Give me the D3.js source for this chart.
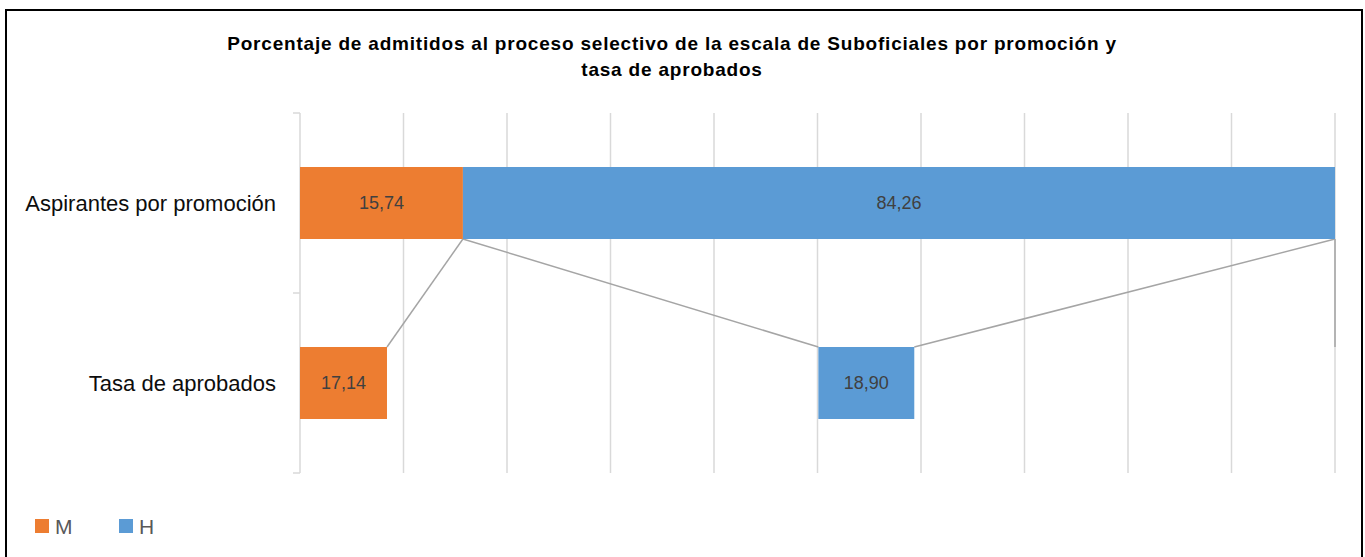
<!DOCTYPE html>
<html><head><meta charset="utf-8">
<script src="https://cdn.jsdelivr.net/npm/d3@7"></script>
<style>body{margin:0;background:#fff;} svg{display:block;}</style>
</head><body>
<script>
const categories = ["Aspirantes por promoción", "Tasa de aprobados"];
const valuesM = [15.74, 17.14];
const spacer1 = [0, 85.0];      // invisible spacer series
const valuesH = [84.26, 18.90];
const spacer2 = [0, 82.9];      // invisible spacer series
const labelsM = ["15,74", "17,14"];
const labelsH = ["84,26", "18,90"];
const xTicks = [0, 10, 20, 30, 40, 50, 60, 70, 80, 90, 100];
const titleLines = ["Porcentaje de admitidos al proceso selectivo de la escala de Suboficiales por promoción y", "tasa de aprobados"];
const legendItems = ["M", "H"];

const W = 1365, H = 557;
const colors = {M: "#ed7d31", S1: "none", H: "#5b9bd5", S2: "none"};
const keys = ["M", "S1", "H", "S2"];
const rows = categories.map((c, i) => ({cat: c, M: valuesM[i], S1: spacer1[i], H: valuesH[i], S2: spacer2[i], lM: labelsM[i], lH: labelsH[i]}));
const FONT = "Liberation Sans, Arial, sans-serif";

const svg = d3.select("body").append("svg").attr("width", W).attr("height", H);
svg.append("rect").attr("x", 0).attr("y", 0).attr("width", W).attr("height", H).attr("fill", "#fff");
// outer frame
svg.append("path").attr("d", `M6,${H+5}V10H1362V${H+5}`).attr("fill", "none").attr("stroke", "#000").attr("stroke-width", 2);

const x = d3.scaleLinear().domain([0, 1]).range([300, 1335]);
const y = d3.scaleBand().domain(categories).range([113, 473]).paddingInner(0).paddingOuter(0);
const barH = 72;

const stack = d3.stack().keys(keys).offset(d3.stackOffsetExpand);
const series = stack(rows);

// gridlines
svg.append("g").selectAll("line").data(xTicks.slice(1)).join("line")
  .attr("x1", d => x(d / 100) ).attr("x2", d => x(d / 100))
  .attr("y1", 113).attr("y2", 473)
  .attr("stroke", "#d9d9d9").attr("stroke-width", 1.5);

// y axis
const yAx = svg.append("g");
yAx.append("line").attr("x1", 300).attr("x2", 300).attr("y1", 113).attr("y2", 473).attr("stroke", "#d9d9d9").attr("stroke-width", 1.5);
const tickYs = [113, ...categories.map(c => y(c) + y.bandwidth())];
yAx.selectAll("line.t").data(tickYs).join("line").attr("class", "t")
  .attr("x1", 293).attr("x2", 300).attr("y1", d => d).attr("y2", d => d)
  .attr("stroke", "#d9d9d9").attr("stroke-width", 1.5);
yAx.selectAll("text").data(categories).join("text")
  .attr("x", 276).attr("y", d => y(d) + y.bandwidth() / 2)
  .attr("text-anchor", "end").attr("dominant-baseline", "central")
  .attr("font-family", FONT).attr("font-size", 22).attr("fill", "#0d0d0d")
  .text(d => d);

// series lines
const barTop = c => y(c) + (y.bandwidth() - barH) / 2;
const sl = svg.append("g");
series.forEach(s => {
  for (let i = 0; i < categories.length - 1; i++) {
    sl.append("line")
      .attr("x1", x(s[i][1])).attr("y1", barTop(categories[i]) + barH)
      .attr("x2", x(s[i + 1][1])).attr("y2", barTop(categories[i + 1]))
      .attr("stroke", "#a5a5a5").attr("stroke-width", 1.5);
  }
});

// bars
series.forEach(s => {
  if (colors[s.key] === "none") return;
  const g = svg.append("g");
  g.selectAll("rect").data(s).join("rect")
    .attr("x", d => x(d[0])).attr("width", d => x(d[1]) - x(d[0]))
    .attr("y", (d, i) => barTop(categories[i])).attr("height", barH)
    .attr("fill", colors[s.key]);
  g.selectAll("text").data(s).join("text")
    .attr("x", d => (x(d[0]) + x(d[1])) / 2)
    .attr("y", (d, i) => barTop(categories[i]) + barH / 2)
    .attr("text-anchor", "middle").attr("dominant-baseline", "central")
    .attr("font-family", FONT).attr("font-size", 18).attr("fill", "#404040")
    .text(d => s.key === "M" ? d.data.lM : d.data.lH);
});

// title
svg.append("g").selectAll("text").data(titleLines).join("text")
  .attr("x", 672).attr("y", (d, i) => 50 + i * 26)
  .attr("text-anchor", "middle")
  .attr("font-family", FONT).attr("font-weight", "bold").attr("font-size", 19).attr("letter-spacing", 0.8).attr("fill", "#000")
  .text(d => d);

// legend
const lg = svg.append("g");
const lx = [35, 119];
legendItems.forEach((k, i) => {
  lg.append("rect").attr("x", lx[i]).attr("y", 519).attr("width", 14).attr("height", 14).attr("fill", colors[k]);
  lg.append("text").attr("x", lx[i] + 20).attr("y", 526).attr("dominant-baseline", "central")
    .attr("font-family", FONT).attr("font-size", 21).attr("fill", "#595959").text(k);
});
</script>
</body></html>
